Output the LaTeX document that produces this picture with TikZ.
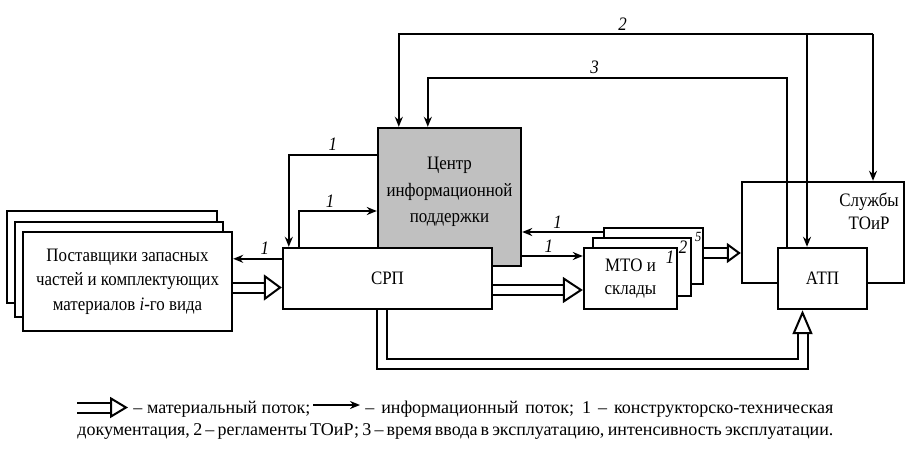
\documentclass[tikz,border=0pt]{standalone}
\usepackage{fontspec}
\setmainfont{Liberation Serif}
\newfontfamily\boxfont{Liberation Serif}[FakeStretch=0.89]
\usetikzlibrary{arrows.meta,positioning,calc}
\definecolor{cipgray}{HTML}{C0C0C0}

\begin{document}
\begin{tikzpicture}[
  x=0.5pt, y=-0.5pt,
  box/.style={draw, line width=1.2pt, fill=white, inner sep=1pt, align=center, font=\boxfont\fontsize{9.5}{12.25}\selectfont},
  info/.style={-{Stealth[length=5pt, width=4pt]}, line width=0.9pt},
  mat/.style 2 args={draw=white, line width=1pt, -{Triangle[color=black, fill=white, length=#1, width=#2, line width=1pt]},
    preaction={draw=black, double=white, double distance=4pt, line width=1pt, shorten >=#1, arrows=-}},
  lbl/.style={font=\boxfont\itshape\fontsize{9.5}{11}\selectfont, inner sep=1.5pt},
  leg/.style={font=\fontsize{9}{11}\selectfont, inner sep=0pt, anchor=base west},
]
  \useasboundingbox (0,0) rectangle (913,454);

  % Suppliers (stack of three cards)
  \node[box, minimum width=105pt, minimum height=46pt] (sup3) at (112,257) {};
  \node[box, minimum width=104pt, minimum height=47.5pt] (sup2) at (119,269.5) {};
  \node[box, minimum width=104.5pt, minimum height=49.5pt] (sup1) at (127.5,281.5) {Поставщики запасных\\частей и комплектующих\\материалов \textit{i}-го вида};

  % Centre + SRP (SRP lies over the centre)
  \node[box, fill=cipgray, minimum width=71.5pt, minimum height=69pt] (cip) at (449.5,197) {};
  \node[font=\boxfont\fontsize{9.5}{13.25}\selectfont, align=center, inner sep=0pt] (ciptxt) at (449.5,192) {Центр\\информационной\\поддержки};
  \node[box, minimum width=104.5pt, minimum height=30.5pt] (srp) at (387.5,278.5) {СРП};

  % MTO stack
  \node[box, minimum width=49.5pt, minimum height=28pt] (mto5) at (653.5,256) {};
  \node[box, minimum width=49pt, minimum height=29pt] (mto2) at (642,267) {};
  \node[box, minimum width=46.5pt, minimum height=30.5pt, font=\boxfont\fontsize{9.5}{11.5}\selectfont] (mto1) at (630.5,278.5) {МТО и\\склады};
  \node[lbl, font=\boxfont\itshape\fontsize{7}{8}\selectfont, inner sep=0pt] (n5) at ([shift={(-6,10)}]mto5.north east) {5};
  \node[lbl, inner sep=0pt] (n2) at ([shift={(-9,10)}]mto2.north east) {2};
  \node[lbl, inner sep=0pt] (n1) at ([shift={(-8,10)}]mto1.north east) {1};

  % TOiR services + ATP
  \node[box, minimum width=81pt, minimum height=50.5pt] (toir) at (823,232.5) {};
  \node[font=\boxfont\fontsize{9.5}{11.5}\selectfont, align=center, anchor=north east, inner sep=0pt] (toirtxt) at ([shift={(-6,12)}]toir.north east) {Службы\\ТОиР};
  \node[box, minimum width=44.5pt, minimum height=30.5pt] (atp) at (822.5,278.5) {АТП};

  % Information flows
  \coordinate (s1) at ([yshift=-6pt]srp.north west);
  \draw[info] (s1) -- (s1 -| sup1.east) node[lbl, pos=0.35, above] {1};
  \coordinate (c1) at ([yshift=-14pt]cip.north west);
  \coordinate (s2) at ([xshift=3.5pt]srp.north west);
  \draw[info] (c1) -| node[lbl, pos=0.25, above] {1} (s2);
  \coordinate (s3) at ([xshift=8.5pt]srp.north west);
  \coordinate (c2) at ([yshift=-7pt]cip.west);
  \draw[info] (s3) |- node[lbl, pos=0.7, above] {1} (c2);
  \coordinate (m1) at ([yshift=12pt]mto5.west);
  \draw[info] (m1) -- (m1 -| cip.east) node[lbl, pos=0.56, above] {1};
  \coordinate (m2) at ([yshift=11.25pt]mto1.west);
  \draw[info] (m2 -| cip.east) -- (m2) node[lbl, pos=0.44, above] {1};

  % 2 and 3
  \coordinate (r2) at (873,34);
  \coordinate (j2) at (807,34);
  \coordinate (c3) at ([xshift=11pt]cip.north west);
  \draw[info] (r2) -- (r2 |- toir.north);
  \draw[info] (j2) -- (j2 |- atp.north);
  \draw[info] (r2) -- (j2) -| node[lbl, pos=0.226, above] {2} (c3);
  \coordinate (t3) at (787,78);
  \coordinate (c4) at ([xshift=25.5pt]cip.north west);
  \draw[info] (t3 |- atp.north) -- (t3) -| node[lbl, pos=0.268, above] {3} (c4);

  % Material flows
  \coordinate (p1) at ([yshift=-3pt]sup1.east);
  \draw[mat={9pt}{13pt}] (p1) -- (p1 -| srp.west);
  \coordinate (p2) at ([yshift=-5.75pt]srp.east);
  \draw[mat={10pt}{13pt}] (p2) -- (p2 -| mto1.west);
  \coordinate (p3) at ([yshift=1.5pt]mto5.east);
  \draw[mat={7pt}{10pt}] (p3) -- (p3 -| toir.west);
  \coordinate (p4) at ([xshift=-2.75pt]srp.south);
  \coordinate (pb) at (802.5,363.5);
  \draw[mat={12pt}{10pt}] (p4) |- (pb) -- (pb |- atp.south);

  % Legend
  \coordinate (la) at (77,407.5);
  \coordinate (lb) at (128,407.5);
  \draw[mat={9pt}{10.5pt}] (la) -- (lb);
  \node[leg] (lt1) at (133,413) {\makebox[88.5pt][s]{– материальный поток;}};
  \coordinate (lc) at (313,405);
  \coordinate (ld) at (360,405);
  \draw[info] (lc) -- (ld);
  \node[leg] (lt2) at (365,413) {\makebox[234pt][s]{– информационный поток; 1 – конструкторско-техническая}};
  \node[leg] (lt3) at (77,435) {\makebox[378pt][s]{документация, 2 – регламенты ТОиР; 3 – время ввода в эксплуатацию, интенсивность эксплуатации.}};
\end{tikzpicture}
\end{document}
